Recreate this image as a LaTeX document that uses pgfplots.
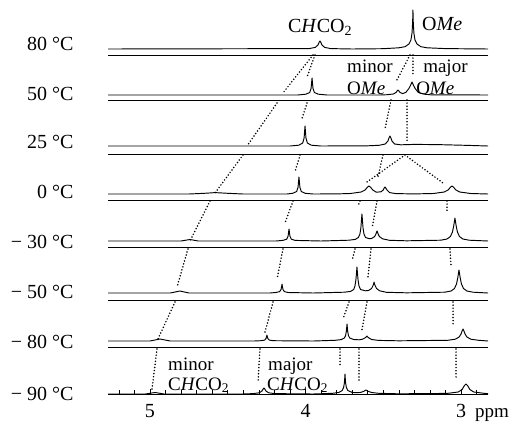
\documentclass[border=0pt]{standalone}
\usepackage{fontspec}
\setmainfont{Liberation Serif}
\usepackage{pgfplots}
\pgfplotsset{compat=1.18}
\begin{document}
\begin{tikzpicture}[font=\fontsize{20}{24}\selectfont,
  ann/.style={anchor=base west, inner sep=0pt, font=\fontsize{19}{22}\selectfont}]
\begin{axis}[
  at={(0,0)}, anchor=south west,
  scale only axis, width=511pt, height=426pt,
  xmin=2.6785, xmax=5.9646, x dir=reverse,
  ymin=0, ymax=426, y dir=reverse,
  hide axis, clip=false,
  spec/.style={black, line width=0.95pt, mark=none, line join=round},
  sep/.style={black, line width=0.85pt, mark=none},
  dotl/.style={black, line width=1.7pt, line cap=round, dash pattern=on 0pt off 3.1pt, mark=none, unbounded coords=jump},
]
% 80 C
\addplot[spec] coordinates {(5.270,49) (3.977,48.6) (3.937,47.4) (3.920,45) (3.912,42.2) (3.907,41) (3.902,42.2) (3.894,45) (3.877,47.4) (3.837,48.6) (3.70,49) (3.50,48.7) (3.400,47.8) (3.360,46.7) (3.335,44) (3.322,40) (3.315,33) (3.311,22) (3.309,10) (3.307,22) (3.303,33) (3.296,40) (3.283,44) (3.258,46.7) (3.218,47.8) (3.10,48.6) (2.826,49)};
\addplot[sep] coordinates {(5.270,55) (2.826,55)};
% 50 C
\addplot[spec] coordinates {(5.270,95) (4.05,95) (3.998,94.2) (3.973,92.5) (3.964,88.2) (3.960,81.4) (3.958,78) (3.956,81.4) (3.952,88.2) (3.943,92.5) (3.918,94.2) (3.86,95) (3.52,95) (3.475,94.7) (3.435,94) (3.418,92.5) (3.410,90.8) (3.405,90) (3.400,90.8) (3.392,92.5) (3.375,93.6) (3.355,92.4) (3.335,88.5) (3.325,85.5) (3.315,82) (3.305,85.5) (3.295,88.5) (3.275,92.4) (3.235,94.2) (3.195,94.8) (2.826,95)};
\addplot[sep] coordinates {(5.270,100) (2.826,100)};
% 25 C
\addplot[spec] coordinates {(5.270,146) (4.10,146) (4.043,145.2) (4.018,143) (4.009,138) (4.005,130) (4.003,126) (4.001,130) (3.997,138) (3.988,143) (3.963,145.2) (3.90,146) (3.60,145.8) (3.527,145.3) (3.487,144) (3.470,141) (3.462,137.5) (3.457,136) (3.452,137.5) (3.444,141) (3.427,144) (3.387,144.8) (3.30,144.4) (3.15,144.6) (2.95,145.4) (2.826,146)};
\addplot[sep] coordinates {(5.270,154) (2.826,154)};
% 0 C
\addplot[spec] coordinates {(5.270,194) (4.75,194) (4.65,193.3) (4.58,192.6) (4.50,193.3) (4.40,194) (4.12,194) (4.082,193.3) (4.057,191.5) (4.048,187.2) (4.044,180.4) (4.042,177) (4.040,180.4) (4.036,187.2) (4.027,191.5) (4.002,193.3) (3.95,194) (3.80,193.9) (3.712,193.5) (3.642,192) (3.617,190) (3.602,187.2) (3.592,186) (3.582,187.2) (3.567,190) (3.545,192.2) (3.515,191.8) (3.500,190) (3.494,188) (3.489,187) (3.484,188) (3.476,190) (3.459,192.6) (3.419,193.6) (3.30,193.9) (3.178,193.5) (3.108,192) (3.083,190) (3.068,187.2) (3.058,186) (3.048,187.2) (3.033,190) (3.008,192) (2.938,193.5) (2.826,194)};
\addplot[sep] coordinates {(5.270,200) (2.826,200)};
% -30 C
\addplot[spec] coordinates {(5.270,241) (4.80,241) (4.743,239.5) (4.69,241) (4.19,241) (4.146,240.4) (4.121,239.2) (4.112,236.2) (4.108,231.4) (4.106,229) (4.104,231.4) (4.100,236.2) (4.091,239.2) (4.066,240.4) (3.90,241) (3.72,240.2) (3.68,239.4) (3.66,237.5) (3.650,234) (3.644,228) (3.640,220) (3.637,214) (3.634,220) (3.630,228) (3.624,234) (3.614,237.5) (3.59,238.7) (3.575,238.5) (3.555,236.5) (3.547,234) (3.543,232) (3.540,231) (3.537,232) (3.533,234) (3.525,236.5) (3.505,238.8) (3.46,240.3) (3.35,240.8) (3.13,240.2) (3.09,239) (3.068,236.5) (3.055,232) (3.047,226) (3.042,221) (3.039,218) (3.036,221) (3.031,226) (3.023,232) (3.010,236.5) (2.988,239) (2.948,240.2) (2.826,241)};
\addplot[sep] coordinates {(5.270,247) (2.826,247)};
% -50 C
\addplot[spec] coordinates {(5.270,293) (4.87,293) (4.807,291) (4.75,293) (4.23,293) (4.191,292.5) (4.166,291.6) (4.157,289.4) (4.153,286) (4.151,284) (4.149,286) (4.145,289.4) (4.136,291.6) (4.111,292.5) (3.95,293) (3.75,292.2) (3.71,291.4) (3.69,289.5) (3.682,286) (3.676,280) (3.672,273) (3.669,267) (3.666,273) (3.662,280) (3.656,286) (3.646,289.5) (3.615,290.8) (3.595,290.5) (3.575,288.5) (3.567,286) (3.562,284) (3.559,282) (3.556,284) (3.551,286) (3.543,288.5) (3.523,290.8) (3.48,292.3) (3.35,292.8) (3.104,292.2) (3.064,291) (3.042,288.5) (3.029,284) (3.021,278) (3.016,273) (3.013,270) (3.010,273) (3.005,278) (2.997,284) (2.984,288.5) (2.962,291) (2.922,292.2) (2.826,293)};
\addplot[sep] coordinates {(5.270,300) (2.826,300)};
% -80 C
\addplot[spec] coordinates {(5.270,341) (5.00,341) (4.936,339) (4.87,341) (4.33,341) (4.288,340.7) (4.263,340.1) (4.254,338.6) (4.250,336.2) (4.248,335) (4.246,336.2) (4.242,338.6) (4.233,340.1) (4.208,340.7) (3.95,341) (3.81,340.3) (3.77,339.6) (3.750,338) (3.742,335.5) (3.737,331) (3.735,327.5) (3.733,324) (3.731,327.5) (3.729,331) (3.724,335.5) (3.716,338) (3.69,339.5) (3.655,339.8) (3.635,339.3) (3.618,338) (3.610,337) (3.605,336) (3.600,337) (3.592,338) (3.575,339.5) (3.53,340.4) (3.40,340.8) (3.087,340.3) (3.037,339.2) (3.012,337) (3.000,334) (2.993,331) (2.987,329) (2.981,331) (2.974,334) (2.962,337) (2.937,339.2) (2.887,340.3) (2.826,341)};
\addplot[sep] coordinates {(5.270,347) (2.826,347)};
% -90 C
\addplot[spec] coordinates {(5.270,394) (5.03,394) (4.968,392.5) (4.91,394) (4.40,394) (4.337,393.6) (4.297,392.8) (4.280,391) (4.272,389) (4.267,388) (4.262,389) (4.254,391) (4.237,392.8) (4.197,393.6) (3.95,394) (3.826,393.3) (3.786,392.5) (3.764,390.5) (3.755,387.5) (3.750,383) (3.748,379) (3.746,374) (3.744,379) (3.742,383) (3.737,387.5) (3.728,390.5) (3.70,392.4) (3.67,392.7) (3.645,392.4) (3.625,391.3) (3.611,390) (3.597,391.3) (3.575,392.5) (3.53,393.3) (3.40,393.8) (3.088,393.4) (3.018,392) (2.993,389.5) (2.978,385.5) (2.968,384) (2.958,385.5) (2.943,389.5) (2.918,392) (2.848,393.4) (2.826,393.6)};
% dotted correlation lines
\addplot[dotl] coordinates {
 (3.952,55) (4.145,93) (4,nan) (3.939,55) (3.990,77) (4,nan) (3.328,55) (3.412,80) (4,nan) (3.309,55) (3.309,76) (4,nan)
 (4.183,103) (4.376,146) (4,nan) (3.990,103) (4.023,119) (4,nan) (3.450,100) (3.489,129) (4,nan) (3.347,100) (3.347,141) (4,nan)
 (4.402,155) (4.582,193) (4,nan) (4.035,155) (4.068,172) (4,nan) (3.502,155) (3.534,177) (4,nan) (3.360,155) (3.605,182) (4,nan) (3.360,155) (3.116,183) (4,nan)
 (4.614,201) (4.743,241) (4,nan) (4.080,201) (4.132,223) (4,nan) (3.650,201) (3.662,206) (4,nan) (3.540,201) (3.572,228) (4,nan) (3.090,201) (3.090,211) (4,nan)
 (4.756,249) (4.826,287) (4,nan) (4.145,249) (4.183,279) (4,nan) (3.682,249) (3.701,261) (4,nan) (3.579,249) (3.598,277) (4,nan) (3.071,249) (3.064,266) (4,nan)
 (4.839,302) (4.949,339) (4,nan) (4.209,302) (4.260,332) (4,nan) (3.720,302) (3.759,319) (4,nan) (3.605,302) (3.637,330) (4,nan) (3.051,302) (3.051,324) (4,nan)
 (4.955,349) (4.987,389) (4,nan) (4.293,349) (4.305,382) (4,nan) (3.778,349) (3.778,367) (4,nan) (3.656,349) (3.656,381) (4,nan) (3.032,349) (3.032,379)
};
% temperature labels
\node[anchor=base east] at (axis cs:5.469,50) {80 °C};
\node[anchor=base east] at (axis cs:5.469,100) {50 °C};
\node[anchor=base east] at (axis cs:5.469,148) {25 °C};
\node[anchor=base east] at (axis cs:5.469,198) {0 °C};
\node[anchor=base east] at (axis cs:5.469,248) {− 30 °C};
\node[anchor=base east] at (axis cs:5.469,298) {− 50 °C};
\node[anchor=base east] at (axis cs:5.469,348) {− 80 °C};
\node[anchor=base east] at (axis cs:5.469,400) {− 90 °C};
% annotations
\node[ann, font=\fontsize{20}{24}\selectfont] at (axis cs:4.113,32) {C\textit{H}CO\textsubscript{2}};
\node[ann, font=\fontsize{20}{24}\selectfont] at (axis cs:3.251,30) {O\textit{Me}};
\node[ann] at (axis cs:3.733,72) {minor};
\node[ann] at (axis cs:3.733,94) {O\textit{Me}};
\node[ann] at (axis cs:3.244,72) {major};
\node[ann] at (axis cs:3.289,94) {O\textit{Me}};
\node[ann] at (axis cs:4.884,370) {minor};
\node[ann] at (axis cs:4.884,390) {C\textit{H}CO\textsubscript{2}};
\node[ann] at (axis cs:4.241,370) {major};
\node[ann] at (axis cs:4.248,390) {C\textit{H}CO\textsubscript{2}};
\node[ann] at (axis cs:2.910,417) {ppm};
\end{axis}
\begin{axis}[
  at={(108pt,32pt)}, anchor=south west,
  scale only axis, width=380pt, height=20pt,
  xmin=2.8264, xmax=5.2701, x dir=reverse,
  ymin=0, ymax=1,
  axis x line=bottom, axis y line=none,
  axis line style={-, line width=0.9pt},
  xtick={3,4,5}, xticklabels={3,4,5},
  minor xtick={2.9,3.1,3.2,3.3,3.4,3.5,3.6,3.7,3.8,3.9,4.1,4.2,4.3,4.4,4.5,4.6,4.7,4.8,4.9,5.1,5.2},
  tick align=inside,
  major tick length=5pt, minor tick length=4pt,
  tick style={black, line width=0.6pt},
  xticklabel style={anchor=base, yshift=-23pt, font=\fontsize{20}{24}\selectfont},
]
\addplot[draw=none, mark=none] coordinates {(4,0.5)};
\end{axis}
\pgfresetboundingbox
\path[use as bounding box] (0,0) rectangle (511pt,426pt);
\end{tikzpicture}
\end{document}
